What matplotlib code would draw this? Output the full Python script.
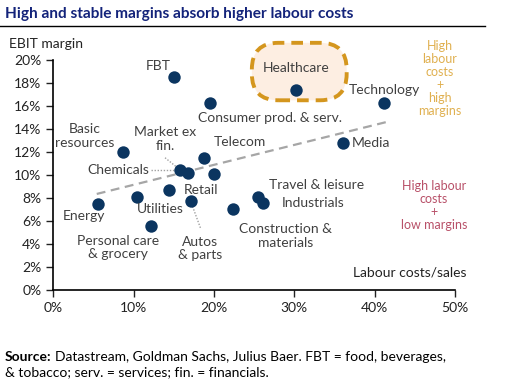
import numpy as np
import matplotlib
matplotlib.use("Agg")
import matplotlib.pyplot as plt
from matplotlib.patches import FancyBboxPatch

plt.rcParams['font.family'] = ['Lato', 'DejaVu Sans']

# data: labour costs / sales (%) and EBIT margin (%)
sectors = ["Energy", "Utilities", "Personal care", "Retail", "Autos & parts",
           "Chemicals", "Market ex fin.", "Telecom", "Unlabelled", "Basic resources",
           "FBT", "Consumer prod. & serv.", "Healthcare", "Technology", "Media",
           "Travel & leisure", "Industrials", "Construction & materials"]
labour = [5.5, 10.4, 12.2, 14.4, 17.1, 15.7, 16.8, 18.8, 20.0, 8.7,
          15.0, 19.5, 30.2, 41.2, 36.1, 25.5, 26.1, 22.4]
margin = [7.5, 8.1, 5.6, 8.7, 7.7, 10.4, 10.2, 11.5, 10.1, 12.0,
          18.5, 16.3, 17.4, 16.3, 12.8, 8.1, 7.6, 7.0]
trend_x = [5.4, 41.4]
trend_y = [8.35, 14.6]

xticks = [0, 10, 20, 30, 40, 50]
yticks = [0, 2, 4, 6, 8, 10, 12, 14, 16, 18, 20]

navy = "#0b3560"
txt = "#404040"

fig = plt.figure(figsize=(5.08, 3.85), dpi=100)
ax = fig.add_axes([0.105, 0.247, 0.791, 0.597])
ax.set_xlim(0, 50)
ax.set_ylim(0, 20)

ax.plot(trend_x, trend_y, linestyle=(0, (4, 2.5)), color="#a6a6a6", lw=1.6, zorder=1)

# healthcare highlight box (rounded in screen space)
p0 = ax.transData.transform((0, 0))
p1 = ax.transData.transform((1, 1))
asp = (p1[0] - p0[0]) / (p1[1] - p0[1])
box = FancyBboxPatch((24.7, 16.5), 11.8, 5.0,
                     boxstyle="round,pad=0,rounding_size=3.3",
                     mutation_aspect=asp,
                     facecolor="#fdeee2", edgecolor="#d4961e", lw=2.8,
                     linestyle=(0, (3.0, 1.8)), clip_on=False, zorder=0.5)
ax.add_patch(box)

ax.scatter(labour, margin, s=80, color=navy, zorder=3, clip_on=False, linewidths=0)

# leader lines
lead = dict(color="#a0a0a0", lw=1, linestyle=(0, (1, 1.2)), zorder=2)
ax.plot([12.1, 15.4], [10.45, 10.45], **lead)
ax.plot([13.9, 15.5], [11.5, 10.6], **lead)
ax.plot([18.3, 17.2], [5.4, 7.5], **lead)

fs = 10
ax.text(13.1, 19.5, "FBT", fontsize=fs, color=txt, ha="center", va="center")
ax.text(27.0, 15.0, "Consumer prod. & serv.", fontsize=fs, color=txt, ha="center", va="center")
ax.text(30.2, 19.3, "Healthcare", fontsize=fs, color=txt, ha="center", va="center")
ax.text(41.2, 17.4, "Technology", fontsize=fs, color=txt, ha="center", va="center")
ax.text(37.1, 12.75, "Media", fontsize=fs, color=txt, ha="left", va="center")
ax.text(19.9, 12.9, "Telecom", fontsize=fs, color=txt, ha="left", va="center")
ax.text(3.95, 13.4, "Basic\nresources", fontsize=fs, color=txt, ha="center", va="center", linespacing=1.15)
ax.text(13.9, 13.15, "Market ex\nfin.", fontsize=fs, color=txt, ha="center", va="center", linespacing=1.15)
ax.text(8.1, 10.4, "Chemicals", fontsize=fs, color=txt, ha="center", va="center")
ax.text(18.4, 8.7, "Retail", fontsize=fs, color=txt, ha="center", va="center")
ax.text(13.3, 7.0, "Utilities", fontsize=fs, color=txt, ha="center", va="center")
ax.text(3.8, 6.4, "Energy", fontsize=fs, color=txt, ha="center", va="center")
ax.text(8.0, 3.7, "Personal care\n& grocery", fontsize=fs, color=txt, ha="center", va="center", linespacing=1.15)
ax.text(18.3, 3.6, "Autos\n& parts", fontsize=fs, color=txt, ha="center", va="center", linespacing=1.15)
ax.text(28.9, 4.7, "Construction &\nmaterials", fontsize=fs, color=txt, ha="center", va="center", linespacing=1.15)
ax.text(32.8, 9.1, "Travel & leisure", fontsize=fs, color=txt, ha="center", va="center")
ax.text(32.3, 7.6, "Industrials", fontsize=fs, color=txt, ha="center", va="center")
ax.text(44.4, 1.5, "Labour costs/sales", fontsize=fs, color="#222222", ha="center", va="center")

ax.set_xticks(xticks)
ax.set_xticklabels([f"{v}%" for v in xticks])
ax.set_yticks(yticks)
ax.set_yticklabels([f"{v}%" for v in yticks])
ax.tick_params(labelsize=10, colors="#222222", length=5, width=1, direction="out")
for s in ["top", "right"]:
    ax.spines[s].set_visible(False)
for s in ["left", "bottom"]:
    ax.spines[s].set_linewidth(1.2)
ax.patch.set_alpha(0)

# title and side notes
fig.text(5 / 508, 1 - 14 / 385, "High and stable margins absorb higher labour costs",
         fontsize=11.1, fontweight="bold", color="#13237a", ha="left", va="center")
fig.add_artist(plt.Line2D([0, 485 / 508], [1 - 26 / 385] * 2, color="black", lw=1))
fig.text(9 / 508, 1 - 44 / 385, "EBIT margin", fontsize=10, color="#222222", ha="left", va="center")
fig.text(440 / 508, 1 - 78.5 / 385, "High\nlabour\ncosts\n+\nhigh\nmargins", fontsize=9,
         color="#e0b050", ha="center", va="center", linespacing=1.1)
fig.text(434 / 508, 1 - 206 / 385, "High labour\ncosts\n+\nlow margins", fontsize=9,
         color="#b85068", ha="center", va="center", linespacing=1.1)

src = fig.text(5 / 508, 1 - 357 / 385, "Source:", fontsize=10, fontweight="bold",
               ha="left", va="center", color="black")
fig.canvas.draw()
bb = src.get_window_extent()
fig.text(bb.x1 / 508 + 0.006, 1 - 357 / 385,
         "Datastream, Goldman Sachs, Julius Baer. FBT = food, beverages,",
         fontsize=10, ha="left", va="center", color="black")
fig.text(5 / 508, 1 - 372 / 385, "& tobacco; serv. = services; fin. = financials.",
         fontsize=10, ha="left", va="center", color="black")

fig.savefig("out.png", dpi=100)
